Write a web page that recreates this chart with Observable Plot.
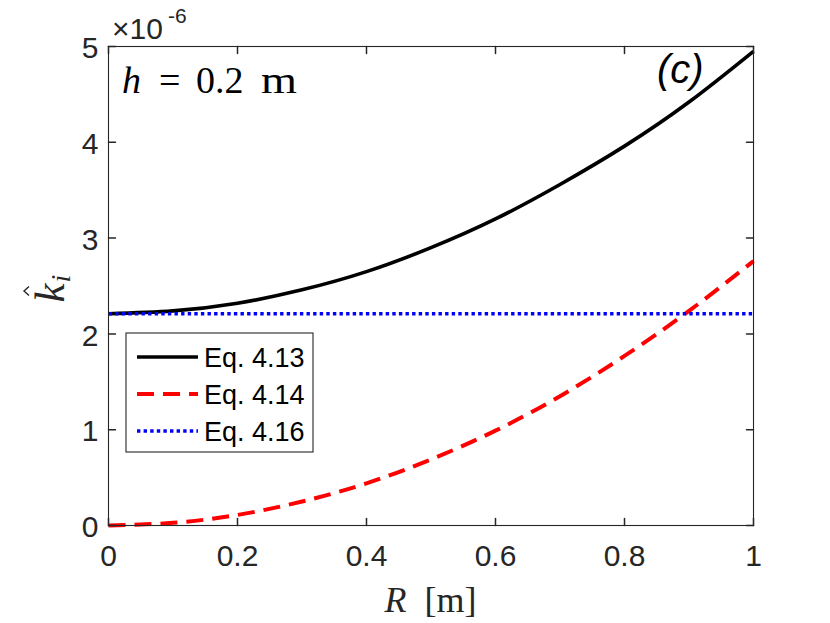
<!DOCTYPE html>
<html><head><meta charset="utf-8">
<script src="https://cdn.jsdelivr.net/npm/d3@7"></script>
<script src="https://cdn.jsdelivr.net/npm/@observablehq/plot@0.6"></script>
<style>body{margin:0;background:#fff}#chart svg{display:block}</style>
</head><body><div id="chart"></div>
<script>
// ---- data (values in units of 1e-6) ----
const R      = [0, 0.1, 0.2, 0.3, 0.4, 0.5, 0.6, 0.7, 0.8, 0.9, 1.0];
const eq413  = [2.21, 2.24, 2.32, 2.46, 2.65, 2.90, 3.20, 3.56, 3.96, 4.42, 4.95];
const eq414  = [0, 0.028, 0.11, 0.25, 0.44, 0.69, 0.99, 1.35, 1.77, 2.24, 2.76];
const eq416  = [2.21, 2.21, 2.21, 2.21, 2.21, 2.21, 2.21, 2.21, 2.21, 2.21, 2.21];
const seriesNames = ["Eq. 4.13", "Eq. 4.14", "Eq. 4.16"];
const xTicks = [0, 0.2, 0.4, 0.6, 0.8, 1];
const yTicks = [0, 1, 2, 3, 4, 5];
const xLabel = "R";
const xUnit = "[m]";
const annotation = {name: "h", eq: "=", val: "0.2", unit: "m"};
const panel = "(c)";
const exponent = "-6";

const series = [eq413, eq414, eq416];
const rows = series.flatMap((vals, s) => R.map((r, i) => ({R: r, k: vals[i], series: seriesNames[s]})));
const styles = {
  "Eq. 4.13": {stroke: "#000000", strokeWidth: 3.6, dash: null, curve: "natural"},
  "Eq. 4.14": {stroke: "#ff0000", strokeWidth: 4, dash: "17,9", curve: "natural"},
  "Eq. 4.16": {stroke: "#0000ff", strokeWidth: 3.6, dash: "3.4,3.2", curve: "linear"}
};
const axisColor = "#262626";
const tickShape = {draw(context, l) { context.moveTo(0, 0); context.lineTo(0, -l); }};

const lineMarks = seriesNames.map(name => Plot.line(rows.filter(d => d.series === name), {
  x: "R", y: "k", stroke: styles[name].stroke, strokeWidth: styles[name].strokeWidth,
  strokeDasharray: styles[name].dash, curve: styles[name].curve,
  strokeLinecap: "butt", strokeLinejoin: "round"
}));

const plot = Plot.plot({
  width: 830, height: 623,
  marginLeft: 108, marginRight: 77, marginTop: 46, marginBottom: 98,
  x: {domain: [0, 1]},
  y: {domain: [0, 5]},
  style: {background: "white", fontFamily: "'Liberation Sans', Arial, sans-serif", color: axisColor},
  marks: [
    ...lineMarks,
    Plot.frame({stroke: axisColor, strokeWidth: 1.1}),
    Plot.vector(xTicks, {x: d => d, y: 0, length: 7, rotate: 0, anchor: "start", shape: tickShape, stroke: axisColor}),
    Plot.vector(xTicks, {x: d => d, y: 5, length: 7, rotate: 180, anchor: "start", shape: tickShape, stroke: axisColor}),
    Plot.vector(yTicks, {x: 0, y: d => d, length: 7, rotate: 90, anchor: "start", shape: tickShape, stroke: axisColor}),
    Plot.vector(yTicks, {x: 1, y: d => d, length: 7, rotate: -90, anchor: "start", shape: tickShape, stroke: axisColor}),
    Plot.axisX({ticks: xTicks, tickSize: 0, tickPadding: 19, fontSize: 30, tickFormat: d => String(d), label: null, fill: axisColor}),
    Plot.axisY({ticks: yTicks, tickSize: 0, tickPadding: 10, fontSize: 30, tickFormat: d => String(d), label: null, fill: axisColor, dy: 2})
  ]
});
document.getElementById("chart").appendChild(plot);

// ---- annotations, labels, legend ----
const svg = d3.select(plot.tagName === "svg" ? plot : plot.querySelector("svg"));
const xs = plot.scale("x"), ys = plot.scale("y");
const [x0, x1] = xs.range, [y0, y1] = ys.range; // y0 bottom, y1 top
const serif = "'Liberation Serif', 'Times New Roman', serif";
const sans = "'Liberation Sans', Arial, sans-serif";

// x label
const xl = svg.append("text").attr("x", (x0 + x1) / 2).attr("y", y0 + 87)
  .attr("text-anchor", "middle").attr("font-family", serif).attr("font-size", 36).attr("fill", axisColor)
  .attr("xml:space", "preserve");
xl.append("tspan").attr("font-style", "italic").text(xLabel);
xl.append("tspan").text("  " + xUnit);

// y label (rotated k-hat sub i)
const yl = svg.append("g").attr("transform", `translate(${x0 - 44},${(y0 + y1) / 2 + 17}) rotate(-90)`);
yl.append("text").attr("x", 0).attr("y", 0).attr("text-anchor", "start").attr("font-family", serif).attr("font-style", "italic")
  .attr("font-size", 43).attr("fill", axisColor).text("k");
yl.append("text").attr("x", 20).attr("y", 6).attr("text-anchor", "start").attr("font-family", serif).attr("font-style", "italic")
  .attr("font-size", 28).attr("fill", axisColor).text("i");
yl.append("path").attr("d", "M7,-35 L11.5,-40 L16,-35").attr("fill", "none").attr("stroke", axisColor).attr("stroke-width", 1.4);

// exponent
const ex = svg.append("text").attr("y", y1 - 7).attr("text-anchor", "start")
  .attr("font-family", sans).attr("font-size", 30).attr("fill", axisColor);
ex.append("tspan").attr("x", x0 + 4).text("\u00d710");
ex.append("tspan").attr("x", x0 + 60).attr("font-size", 21).attr("dy", -16).text(exponent);

// panel letter
svg.append("text").attr("x", x1 - 96).attr("y", y1 + 37).attr("text-anchor", "start").attr("font-family", sans)
  .attr("font-size", 40).attr("font-style", "italic").attr("fill", "#000").text(panel);

// h = 0.2 m
const hx = x0 + 14, hy = y1 + 47;
const ht = svg.append("text").attr("y", hy).attr("text-anchor", "start").attr("font-family", serif)
  .attr("font-size", 38).attr("fill", "#000");
ht.append("tspan").attr("x", hx).attr("font-style", "italic").text(annotation.name);
ht.append("tspan").attr("x", hx + 37).text(annotation.eq);
ht.append("tspan").attr("x", hx + 74).text(annotation.val);
ht.append("tspan").attr("x", hx + 139).attr("textLength", 36).attr("lengthAdjust", "spacingAndGlyphs").text(annotation.unit);

// legend
const lg = svg.append("g");
const lx = x0 + 18, ly = 333, lw = 187, lh = 119;
lg.append("rect").attr("x", lx).attr("y", ly).attr("width", lw).attr("height", lh)
  .attr("fill", "white").attr("stroke", axisColor).attr("stroke-width", 1.1);
seriesNames.forEach((name, i) => {
  const yy = ly + 24 + i * 37;
  const st = styles[name];
  lg.append("line").attr("x1", lx + 11).attr("x2", lx + 72).attr("y1", yy).attr("y2", yy)
    .attr("stroke", st.stroke).attr("stroke-width", st.strokeWidth).attr("stroke-dasharray", st.dash);
  lg.append("text").attr("x", lx + 78).attr("y", yy + 10).attr("text-anchor", "start").attr("font-family", sans)
    .attr("font-size", 27).attr("fill", "#000").text(name);
});
</script>
</body></html>
